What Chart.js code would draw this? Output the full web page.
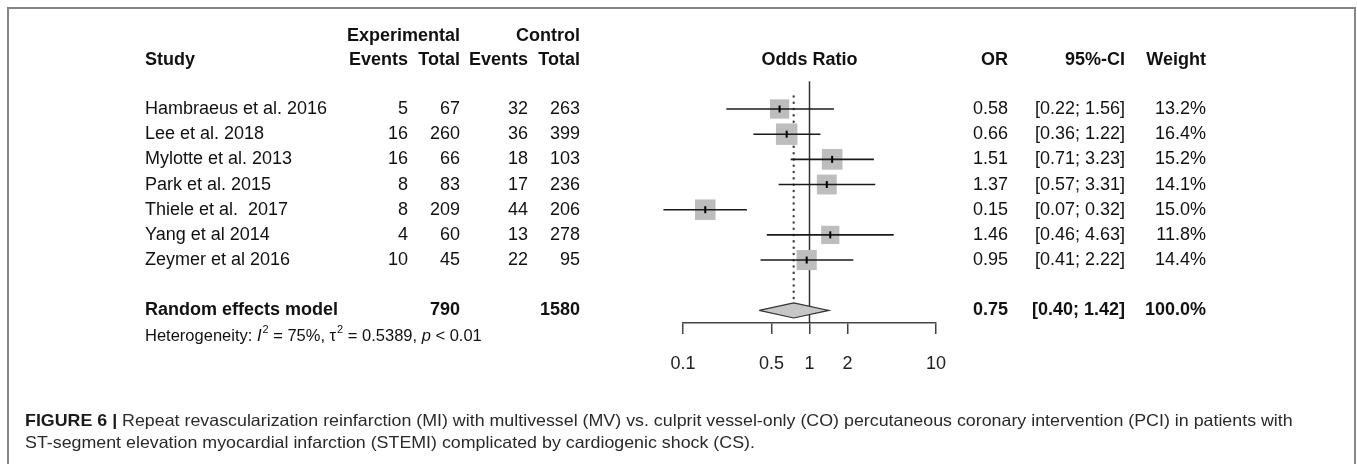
<!DOCTYPE html>
<html lang="en">
<head>
  <meta charset="UTF-8" />
  <title>Forest plot - repeat revascularization reinfarction</title>
  <script src="https://cdn.jsdelivr.net/npm/chart.js"></script>
  <style>
    body {
      margin: 0;
      background: #fff;
      font-family: "Liberation Sans", Arial, Helvetica, sans-serif;
    }

    .frame {
      position: absolute;
      left: 7px;
      top: 7px;
      width: 1345px;
      height: 480px;
      border: 2px solid #858585;
      border-bottom: none;
    }

    #forest {
      position: absolute;
      left: 0;
      top: 0;
    }

    .caption {
      position: absolute;
      left: 25px;
      top: 409px;
      font-size: 16.5px;
      line-height: 22px;
      color: #2a2a2a;
      white-space: nowrap;
      transform: scaleX(1.08);
      transform-origin: left top;
    }

    .caption b {
      color: #1a1a1a;
    }
  </style>
</head>
<body>
  <div class="frame"></div>
  <canvas id="forest" width="1357" height="464"></canvas>
  <div class="caption">
    <b>FIGURE 6 |</b> Repeat revascularization reinfarction (MI) with multivessel (MV) vs. culprit vessel-only (CO) percutaneous coronary intervention (PCI) in patients with<br>
    ST-segment elevation myocardial infarction (STEMI) complicated by cardiogenic shock (CS).
  </div>

  <script>
    // study data
    const studies = [
      'Hambraeus et al. 2016',
      'Lee et al. 2018',
      'Mylotte et al. 2013',
      'Park et al. 2015',
      'Thiele et al.  2017',
      'Yang et al 2014',
      'Zeymer et al 2016'
    ];
    const expEvents = [5, 16, 16, 8, 8, 4, 10];
    const expTotal = [67, 260, 66, 83, 209, 60, 45];
    const ctrlEvents = [32, 36, 18, 17, 44, 13, 22];
    const ctrlTotal = [263, 399, 103, 236, 206, 278, 95];
    const oddsRatio = [0.58, 0.66, 1.51, 1.37, 0.15, 1.46, 0.95];
    const ciLower = [0.22, 0.36, 0.71, 0.57, 0.07, 0.46, 0.41];
    const ciUpper = [1.56, 1.22, 3.23, 3.31, 0.32, 4.63, 2.22];
    const weights = [13.2, 16.4, 15.2, 14.1, 15.0, 11.8, 14.4];

    const pooled = { or: 0.75, lower: 0.40, upper: 1.42, expTotal: 790, ctrlTotal: 1580 };
    const xTicks = [0.1, 0.5, 1, 2, 10];

    const FONT = '"Liberation Sans", Arial, Helvetica, sans-serif';
    const pooledRow = studies.length + 2;

    // column right edges (pixels)
    const colStudy = 145;
    const colExpEv = 408, colExpTot = 460, colCtrlEv = 528, colCtrlTot = 580;
    const colOR = 1008, colCI = 1125, colW = 1206;

    const fmt2 = v => v.toFixed(2);

    const tablePlugin = {
      id: 'forestTable',
      afterDraw(chart) {
        const ctx = chart.ctx;
        const ys = chart.scales.y;
        const xs = chart.scales.x;
        ctx.save();
        ctx.fillStyle = '#111';
        ctx.textBaseline = 'middle';

        function put(txt, x, row, align, bold) {
          ctx.font = (bold ? 'bold ' : '') + '18px ' + FONT;
          ctx.textAlign = align;
          ctx.fillText(txt, x, ys.getPixelForValue(row));
        }

        // headers
        put('Experimental', colExpTot, -1.9, 'right', true);
        put('Control', colCtrlTot, -1.9, 'right', true);
        put('Study', colStudy, -0.95, 'left', true);
        put('Events', colExpEv, -0.95, 'right', true);
        put('Total', colExpTot, -0.95, 'right', true);
        put('Events', colCtrlEv, -0.95, 'right', true);
        put('Total', colCtrlTot, -0.95, 'right', true);
        put('Odds Ratio', xs.getPixelForValue(1), -0.95, 'center', true);
        put('OR', colOR, -0.95, 'right', true);
        put('95%-CI', colCI, -0.95, 'right', true);
        put('Weight', colW, -0.95, 'right', true);

        // study rows
        studies.forEach((name, i) => {
          const r = i + 1;
          put(name, colStudy, r, 'left', false);
          put(String(expEvents[i]), colExpEv, r, 'right', false);
          put(String(expTotal[i]), colExpTot, r, 'right', false);
          put(String(ctrlEvents[i]), colCtrlEv, r, 'right', false);
          put(String(ctrlTotal[i]), colCtrlTot, r, 'right', false);
          put(fmt2(oddsRatio[i]), colOR, r, 'right', false);
          put('[' + fmt2(ciLower[i]) + '; ' + fmt2(ciUpper[i]) + ']', colCI, r, 'right', false);
          put(weights[i].toFixed(1) + '%', colW, r, 'right', false);
        });

        // pooled row
        put('Random effects model', colStudy, pooledRow, 'left', true);
        put(String(pooled.expTotal), colExpTot, pooledRow, 'right', true);
        put(String(pooled.ctrlTotal), colCtrlTot, pooledRow, 'right', true);
        put(fmt2(pooled.or), colOR, pooledRow, 'right', true);
        put('[' + fmt2(pooled.lower) + '; ' + fmt2(pooled.upper) + ']', colCI, pooledRow, 'right', true);
        put('100.0%', colW, pooledRow, 'right', true);

        // heterogeneity line with italics and superscripts
        const hy = ys.getPixelForValue(pooledRow + 1.02);
        const parts = [
          ['Heterogeneity: ', ''],
          ['I', 'italic '],
          ['2', 'sup'],
          [' = 75%, \u03C4', ''],
          ['2', 'sup'],
          [' = 0.5389, ', ''],
          ['p', 'italic '],
          [' < 0.01', '']
        ];
        let hx = colStudy;
        ctx.textAlign = 'left';
        parts.forEach(([t, st]) => {
          if (st === 'sup') {
            ctx.font = '11px ' + FONT;
            ctx.fillText(t, hx + 1, hy - 6);
            hx += ctx.measureText(t).width + 1;
          } else {
            ctx.font = st + '16.5px ' + FONT;
            ctx.fillText(t, hx, hy);
            hx += ctx.measureText(t).width;
          }
        });
        ctx.restore();
      }
    };

    const datasets = [];

    // line of no effect
    datasets.push({
      type: 'line',
      data: [{ x: 1, y: -0.1 }, { x: 1, y: 9.5 }],
      borderColor: '#333',
      borderWidth: 1.5,
      pointRadius: 0,
      order: 6
    });

    // pooled estimate (dotted)
    datasets.push({
      type: 'line',
      data: [{ x: pooled.or, y: 0.5 }, { x: pooled.or, y: 8.6 }],
      borderColor: '#444',
      borderWidth: 2.4,
      borderDash: [0.1, 6.2],
      borderCapStyle: 'round',
      pointRadius: 0,
      order: 5
    });

    // weighted squares
    datasets.push({
      type: 'scatter',
      data: oddsRatio.map((v, i) => ({ x: v, y: i + 1 })),
      pointStyle: 'rect',
      pointRadius: c => 5.3 * Math.sqrt(weights[c.dataIndex]) / Math.SQRT2,
      backgroundColor: '#bdbdbd',
      borderWidth: 0,
      order: 3
    });

    // confidence intervals
    studies.forEach((s, i) => {
      datasets.push({
        type: 'line',
        data: [{ x: ciLower[i], y: i + 1 }, { x: ciUpper[i], y: i + 1 }],
        borderColor: '#1a1a1a',
        borderWidth: 1.6,
        pointRadius: 0,
        order: 2
      });
    });

    // point estimate marks
    datasets.push({
      type: 'scatter',
      data: oddsRatio.map((v, i) => ({ x: v, y: i + 1 })),
      pointStyle: 'line',
      rotation: 90,
      pointRadius: 3.5,
      borderColor: '#000',
      borderWidth: 2,
      order: 1
    });

    // pooled diamond
    datasets.push({
      type: 'line',
      data: [
        { x: pooled.lower, y: pooledRow },
        { x: pooled.or, y: pooledRow - 0.3 },
        { x: pooled.upper, y: pooledRow },
        { x: pooled.or, y: pooledRow + 0.3 },
        { x: pooled.lower, y: pooledRow }
      ],
      borderColor: '#333',
      borderWidth: 1.2,
      backgroundColor: '#c6c6c6',
      fill: 'shape',
      pointRadius: 0,
      order: 4
    });

    new Chart(document.getElementById('forest'), {
      type: 'scatter',
      data: { datasets },
      options: {
        responsive: false,
        animation: false,
        events: [],
        layout: {
          autoPadding: false,
          padding: { left: 683, right: 421, top: 8.3, bottom: 0 }
        },
        elements: { line: { tension: 0 } },
        datasets: { line: { clip: false }, scatter: { clip: false } },
        plugins: {
          legend: { display: false },
          tooltip: { enabled: false }
        },
        scales: {
          x: {
            type: 'logarithmic',
            min: 0.1,
            max: 10,
            afterBuildTicks: s => { s.ticks = xTicks.map(v => ({ value: v })); },
            afterFit: s => { s.height = 141; },
            grid: {
              drawOnChartArea: false,
              drawTicks: true,
              tickLength: 11,
              color: '#444',
              lineWidth: 1.5
            },
            border: { display: true, color: '#444', width: 1.5 },
            ticks: {
              autoSkip: false,
              maxRotation: 0,
              padding: 19,
              color: '#222',
              font: { family: FONT, size: 18 },
              callback: v => String(v)
            }
          },
          y: {
            type: 'linear',
            min: -3,
            max: 9.5,
            reverse: true,
            display: false
          }
        }
      },
      plugins: [tablePlugin]
    });
  </script>
</body>
</html>
